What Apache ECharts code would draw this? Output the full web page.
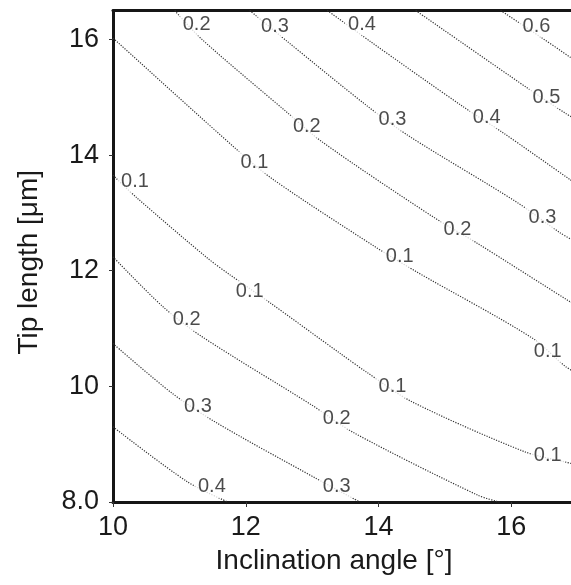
<!DOCTYPE html>
<html>
<head>
<meta charset="utf-8">
<script src="https://cdn.jsdelivr.net/npm/echarts@6/dist/echarts.min.js"></script>
<style>
  html, body { margin: 0; padding: 0; background: #fff; }
  #chart { width: 571px; height: 585px; }
</style>
</head>
<body>
<div id="chart"></div>
<script>
// contour polylines [angle, tip length]
const upper01 = [[10.0, 16.02], [10.07, 15.95], [11.86, 14.10], [12.41, 13.58], [13.94, 12.42], [14.59, 11.97], [16.31, 10.84], [16.82, 10.34], [17.0, 10.22]]
const upper02 = [[10.93, 16.5], [11.34, 16.0], [12.62, 14.74], [13.16, 14.22], [14.81, 12.94], [15.48, 12.48], [16.89, 11.46], [17.0, 11.39]]
const upper03 = [[12.06, 16.5], [12.62, 15.97], [13.84, 14.84], [14.47, 14.32], [16.09, 13.18], [16.73, 12.66], [17.0, 12.48]]
const upper04 = [[13.23, 16.5], [13.87, 15.97], [15.27, 14.84], [15.87, 14.39], [16.88, 13.58], [17.0, 13.49]]
const upper05 = [[14.56, 16.5], [16.23, 15.17], [16.82, 14.72], [17.0, 14.6]]
const upper06 = [[15.84, 16.5], [16.43, 16.05], [16.89, 15.69], [17.0, 15.6]]
const lower01 = [[10.0, 13.65], [10.36, 13.26], [11.41, 12.23], [11.76, 11.93], [12.36, 11.45], [13.41, 10.58], [13.84, 10.23], [14.51, 9.73], [16.2, 8.87], [16.82, 8.69], [17.0, 8.64]]
const lower02 = [[10.0, 12.24], [10.75, 11.38], [11.34, 10.86], [12.99, 9.68], [13.64, 9.19], [15.49, 8.12], [15.82, 8.0]]
const lower03 = [[10.0, 10.74], [10.88, 9.89], [11.56, 9.37], [13.04, 8.42], [13.72, 8.0]]
const lower04 = [[10.0, 9.3], [11.12, 8.35], [11.73, 8.0]]

// inline label spots [angle, tip length, level]
const upperLabels = [
  [12.13, 13.87, 0.1], [14.32, 12.24, 0.1], [16.55, 10.6, 0.1],
  [11.26, 16.26, 0.2], [12.92, 14.49, 0.2], [15.19, 12.71, 0.2],
  [12.44, 16.23, 0.3], [14.21, 14.61, 0.3], [16.47, 12.92, 0.3],
  [13.75, 16.26, 0.4], [15.63, 14.65, 0.4],
  [16.53, 15.0, 0.5],
  [16.38, 16.23, 0.6]
]
const lowerLabels = [
  [10.33, 13.54, 0.1], [12.06, 11.64, 0.1], [14.21, 9.99, 0.1], [16.55, 8.81, 0.1],
  [11.11, 11.15, 0.2], [13.37, 9.45, 0.2],
  [11.28, 9.65, 0.3], [13.37, 8.26, 0.3],
  [11.49, 8.26, 0.4]
]

const xTicks = [10, 12, 14, 16]
const yTicks = [8, 10, 12, 14, 16]

const font = '"Liberation Sans", Arial, Helvetica, sans-serif'
const frame = { color: '#161616', width: 3 }

const lines = [upper01, upper02, upper03, upper04, upper05, upper06, lower01, lower02, lower03, lower04]

const series = lines.map(function (pts) {
  return {
    type: 'line',
    data: pts,
    symbol: 'none',
    smooth: 0.3,
    silent: true,
    lineStyle: { color: '#333', width: 1.2, type: [1.2, 1.4] },
    z: 2
  }
})

series.push({
  type: 'scatter',
  data: upperLabels.concat(lowerLabels),
  symbolSize: 1,
  itemStyle: { color: 'transparent' },
  silent: true,
  z: 5,
  label: {
    show: true,
    position: 'inside',
    formatter: function (p) { return p.value[2].toFixed(1) },
    fontFamily: font,
    fontSize: 20,
    color: '#1e1e1e',
    backgroundColor: '#fff',
    padding: [1, 3]
  }
})

const option = {
  animation: false,
  backgroundColor: '#fff',
  grid: { left: 113, right: 0, top: 10.5, bottom: 83 },
  xAxis: [
    {
      type: 'value',
      min: 10,
      max: 16.9,
      interval: 2,
      name: 'Inclination angle [°]',
      nameLocation: 'middle',
      nameGap: 45,
      nameTextStyle: { fontFamily: font, fontSize: 28, color: '#1a1a1a', padding: [0, 16, 0, 0] },
      axisLine: { show: true, onZero: false, lineStyle: frame },
      axisTick: { show: true, length: 5, lineStyle: { color: '#333', width: 1 } },
      axisLabel: {
        margin: 12,
        fontFamily: font,
        fontSize: 27,
        color: '#1a1a1a',
        showMaxLabel: false,
        formatter: function (v) { return xTicks.indexOf(v) >= 0 ? String(v) : '' }
      },
      splitLine: { show: false }
    },
    {
      // top frame line only
      type: 'value',
      position: 'top',
      min: 10,
      max: 16.9,
      axisLine: { show: true, onZero: false, lineStyle: frame },
      axisTick: { show: false },
      axisLabel: { show: false },
      splitLine: { show: false }
    }
  ],
  yAxis: {
    type: 'value',
    min: 8,
    max: 16.5,
    interval: 2,
    name: 'Tip length [μm]',
    nameLocation: 'middle',
    nameRotate: 90,
    nameGap: 70,
    nameTextStyle: { fontFamily: font, fontSize: 28, color: '#1a1a1a', padding: [0, 12, 0, 0] },
    axisLine: { show: true, onZero: false, lineStyle: frame },
    axisTick: { show: true, length: 4, lineStyle: { color: '#333', width: 1 } },
    axisLabel: {
      margin: 14,
      fontFamily: font,
      fontSize: 27,
      color: '#1a1a1a',
      showMaxLabel: false,
      formatter: function (v) {
        if (yTicks.indexOf(v) < 0) return ''
        return v === 8 ? '8.0' : String(v)
      }
    },
    splitLine: { show: false }
  },
  series: series
}

const chart = echarts.init(document.getElementById('chart'))
chart.setOption(option)
</script>
</body>
</html>
